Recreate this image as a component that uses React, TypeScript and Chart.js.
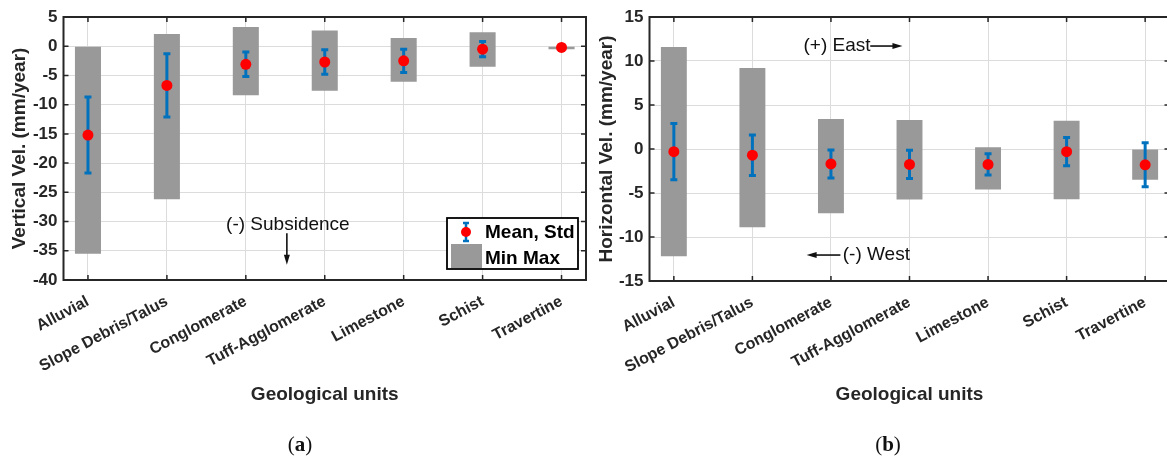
import React, { useEffect, useRef } from 'react';
import { Chart, registerables } from 'chart.js';

Chart.register(...registerables);

// ---------- data ----------
const units = ['Alluvial', 'Slope Debris/Talus', 'Conglomerate', 'Tuff-Agglomerate', 'Limestone', 'Schist', 'Travertine'];

// (a) vertical velocity (mm/year)
const vertMin = [-35.5, -26.2, -8.4, -7.6, -6.1, -3.5, -0.5];
const vertMax = [0, 2.1, 3.3, 2.7, 1.4, 2.4, 0];
const vertMean = [-15.2, -6.7, -3.1, -2.7, -2.5, -0.5, -0.2];
const vertStd = [6.5, 5.4, 2.1, 2.1, 2.0, 1.3, 0.3];

// (b) horizontal velocity (mm/year)
const horMin = [-12.2, -8.9, -7.3, -5.75, -4.6, -5.7, -3.5];
const horMax = [11.6, 9.2, 3.4, 3.3, 0.2, 3.2, 0];
const horMean = [-0.3, -0.7, -1.7, -1.75, -1.75, -0.3, -1.8];
const horStd = [3.2, 2.3, 1.6, 1.6, 1.2, 1.6, 2.5];

// annotations (data coordinates)
const vertNotes = [{ text: '(-) Subsidence', x: 1.75, y: -30.6 }];
const vertArrows = [{ x1: 2.52, y1: -32.0, x2: 2.52, y2: -37.4 }];
const horNotes = [
  { text: '(+) East', x: 1.65, y: 11.7 },
  { text: '(-) West', x: 2.15, y: -12.05 },
];
const horArrows = [
  { x1: 2.5, y1: 11.7, x2: 2.91, y2: 11.7 },
  { x1: 2.12, y1: -12.05, x2: 1.69, y2: -12.05 },
];

// ---------- styles ----------
const FONT = "'Liberation Sans', Arial, Helvetica, sans-serif";
const AXIS = '#262626';
const BLUE = '#0072BD';
const GRAY = '#999999';
const RED = '#ff0000';
const GRID = '#dcdcdc';

type Note = { text: string; x: number; y: number };
type Arrow = { x1: number; y1: number; x2: number; y2: number };

function drawArrow(ctx: CanvasRenderingContext2D, x1: number, y1: number, x2: number, y2: number) {
  const ang = Math.atan2(y2 - y1, x2 - x1);
  const len = 10;
  const hw = 3;
  ctx.beginPath();
  ctx.moveTo(x1, y1);
  ctx.lineTo(x2 - Math.cos(ang) * len * 0.8, y2 - Math.sin(ang) * len * 0.8);
  ctx.stroke();
  ctx.beginPath();
  ctx.moveTo(x2, y2);
  ctx.lineTo(x2 - Math.cos(ang) * len - Math.sin(ang) * hw, y2 - Math.sin(ang) * len + Math.cos(ang) * hw);
  ctx.lineTo(x2 - Math.cos(ang) * len + Math.sin(ang) * hw, y2 - Math.sin(ang) * len - Math.cos(ang) * hw);
  ctx.closePath();
  ctx.fill();
}

interface PanelProps {
  mins: number[];
  maxs: number[];
  means: number[];
  stds: number[];
  yMin: number;
  yMax: number;
  yTitle: string;
  notes: Note[];
  arrows: Arrow[];
  legend: boolean;
  yWidth: number;
  titlePad: number;
  plotBottom: number;
  width: number;
  left: number;
  padRight: number;
}

function Panel(p: PanelProps) {
  const ref = useRef<HTMLCanvasElement | null>(null);
  useEffect(() => {
    if (!ref.current) return;
    const H = 458;
    const titleFont = 19;
    const padBottom = H - 395 - (titleFont * 1.2) / 2;
    const xHeight = H - padBottom - p.plotBottom;

    const plugin = {
      id: 'extras',
      afterDatasetDraw(chart: any, args: any) {
        if (args.index !== 0) return;
        const { ctx } = chart;
        const xs = chart.scales.x;
        const ys = chart.scales.y;
        ctx.save();
        ctx.strokeStyle = BLUE;
        ctx.lineWidth = 3;
        ctx.lineCap = 'butt';
        p.means.forEach((m, i) => {
          const px = xs.getPixelForValue(i);
          const top = ys.getPixelForValue(m + p.stds[i]);
          const bot = ys.getPixelForValue(m - p.stds[i]);
          ctx.beginPath();
          ctx.moveTo(px, top);
          ctx.lineTo(px, bot);
          ctx.stroke();
          ctx.beginPath();
          ctx.moveTo(px - 3.5, top);
          ctx.lineTo(px + 3.5, top);
          ctx.moveTo(px - 3.5, bot);
          ctx.lineTo(px + 3.5, bot);
          ctx.stroke();
        });
        ctx.restore();
      },
      afterDraw(chart: any) {
        const { ctx, chartArea: a } = chart;
        const xs = chart.scales.x;
        const ys = chart.scales.y;
        ctx.save();
        // inward ticks
        ctx.strokeStyle = AXIS;
        ctx.lineWidth = 1.5;
        ctx.beginPath();
        ys.ticks.forEach((t: any) => {
          const py = ys.getPixelForValue(t.value);
          ctx.moveTo(a.left, py);
          ctx.lineTo(a.left + 5, py);
          ctx.moveTo(a.right, py);
          ctx.lineTo(a.right - 5, py);
        });
        xs.ticks.forEach((t: any) => {
          const px = xs.getPixelForValue(t.value);
          ctx.moveTo(px, a.top);
          ctx.lineTo(px, a.top + 5);
          ctx.moveTo(px, a.bottom);
          ctx.lineTo(px, a.bottom - 5);
        });
        ctx.stroke();
        // box
        ctx.lineWidth = 2;
        ctx.strokeRect(a.left, a.top, a.right - a.left, a.bottom - a.top);

        // notes
        ctx.fillStyle = '#111';
        ctx.strokeStyle = '#111';
        ctx.font = `19px ${FONT}`;
        ctx.textAlign = 'left';
        ctx.textBaseline = 'middle';
        p.notes.forEach((n) => {
          ctx.fillText(n.text, xs.getPixelForValue(n.x), ys.getPixelForValue(n.y));
        });
        ctx.lineWidth = 1.6;
        p.arrows.forEach((r) => {
          drawArrow(ctx, xs.getPixelForValue(r.x1), ys.getPixelForValue(r.y1), xs.getPixelForValue(r.x2), ys.getPixelForValue(r.y2));
        });

        // legend
        if (p.legend) {
          const w = 131;
          const h = 51;
          const lx = a.right - 8 - w;
          const ly = a.bottom - 11 - h;
          ctx.fillStyle = '#ffffff';
          ctx.fillRect(lx, ly, w, h);
          ctx.strokeStyle = '#000';
          ctx.lineWidth = 1.8;
          ctx.strokeRect(lx, ly, w, h);
          const ix = lx + 19;
          ctx.strokeStyle = BLUE;
          ctx.lineWidth = 2.5;
          ctx.beginPath();
          ctx.moveTo(ix, ly + 5);
          ctx.lineTo(ix, ly + 23);
          ctx.moveTo(ix - 3, ly + 5);
          ctx.lineTo(ix + 3, ly + 5);
          ctx.moveTo(ix - 3, ly + 23);
          ctx.lineTo(ix + 3, ly + 23);
          ctx.stroke();
          ctx.fillStyle = RED;
          ctx.beginPath();
          ctx.arc(ix, ly + 14, 5, 0, Math.PI * 2);
          ctx.fill();
          ctx.fillStyle = GRAY;
          ctx.fillRect(lx + 4, ly + 26, 31, 24);
          ctx.fillStyle = '#000';
          ctx.font = `bold 19px ${FONT}`;
          ctx.textAlign = 'left';
          ctx.textBaseline = 'middle';
          ctx.fillText('Mean, Std', lx + 38, ly + 15);
          ctx.fillText('Min Max', lx + 38, ly + 41);
        }
        ctx.restore();
      },
    };

    const chart = new Chart(ref.current, {
      type: 'bar',
      data: {
        datasets: [
          {
            type: 'bar',
            label: 'Min Max',
            data: units.map((_, i) => ({ x: i, y: [p.mins[i], p.maxs[i]] })) as any,
            backgroundColor: GRAY,
            borderWidth: 0,
            barPercentage: 0.33,
            categoryPercentage: 1,
            order: 2,
          } as any,
          {
            type: 'scatter',
            label: 'Mean, Std',
            data: units.map((_, i) => ({ x: i, y: p.means[i] })),
            backgroundColor: RED,
            borderWidth: 0,
            pointRadius: 5.5,
            order: 1,
          } as any,
        ],
      },
      options: {
        animation: false,
        responsive: false,
        events: [],
        layout: { padding: { left: 0, right: p.padRight, top: 17, bottom: padBottom } },
        plugins: { legend: { display: false }, tooltip: { enabled: false } },
        scales: {
          x: {
            type: 'linear',
            offset: false,
            min: -0.31,
            max: 6.31,
            afterBuildTicks: (scale: any) => {
              scale.ticks = units.map((_, i) => ({ value: i }));
            },
            afterFit: (scale: any) => {
              scale.height = xHeight;
            },
            grid: { color: GRID, lineWidth: 1, drawTicks: false, offset: false },
            border: { display: false },
            ticks: {
              autoSkip: false,
              minRotation: 28,
              maxRotation: 28,
              padding: 12,
              color: AXIS,
              font: { family: FONT, size: 16, weight: 'bold' },
              callback: (v: any) => units[Math.round(Number(v))] ?? '',
            },
            title: {
              display: true,
              text: 'Geological units',
              color: AXIS,
              padding: { top: 0, bottom: 0 },
              font: { family: FONT, size: titleFont, weight: 'bold' },
            },
          },
          y: {
            type: 'linear',
            min: p.yMin,
            max: p.yMax,
            afterFit: (scale: any) => {
              scale.width = p.yWidth;
            },
            grid: { color: GRID, lineWidth: 1, drawTicks: false },
            border: { display: false },
            ticks: {
              stepSize: 5,
              padding: 6,
              color: AXIS,
              font: { family: FONT, size: 17, weight: 'bold' },
            },
            title: {
              display: true,
              text: p.yTitle,
              color: AXIS,
              padding: { top: p.titlePad, bottom: 0 },
              font: { family: FONT, size: titleFont, weight: 'bold' },
            },
          },
        },
      } as any,
      plugins: [plugin],
    });
    return () => chart.destroy();
  }, []);
  return (
    <canvas
      ref={ref}
      width={p.width}
      height={458}
      style={{ position: 'absolute', left: p.left, top: 0, width: p.width, height: 458 }}
    />
  );
}

const captionStyle: React.CSSProperties = {
  position: 'absolute',
  top: 432,
  width: 80,
  textAlign: 'center',
  fontFamily: "'Liberation Serif', 'DejaVu Serif', serif",
  fontSize: 21,
  lineHeight: '24px',
  color: '#111',
};

export default function App() {
  return (
    <div style={{ position: 'absolute', left: 0, top: 0, width: 1167, height: 458, overflow: 'hidden', background: '#fff' }}>
      <Panel
        mins={vertMin}
        maxs={vertMax}
        means={vertMean}
        stds={vertStd}
        yMin={-40}
        yMax={5}
        yTitle="Vertical Vel. (mm/year)"
        notes={vertNotes}
        arrows={vertArrows}
        legend={true}
        yWidth={63.5}
        titlePad={8.6}
        plotBottom={280}
        width={600}
        left={0}
        padRight={14}
      />
      <Panel
        mins={horMin}
        maxs={horMax}
        means={horMean}
        stds={horStd}
        yMin={-15}
        yMax={15}
        yTitle="Horizontal Vel. (mm/year)"
        notes={horNotes}
        arrows={horArrows}
        legend={false}
        yWidth={59.5}
        titlePad={5.6}
        plotBottom={281}
        width={585}
        left={590}
        padRight={0}
      />
      <div style={{ ...captionStyle, left: 260 }}>
        (<b>a</b>)
      </div>
      <div style={{ ...captionStyle, left: 848 }}>
        (<b>b</b>)
      </div>
    </div>
  );
}
